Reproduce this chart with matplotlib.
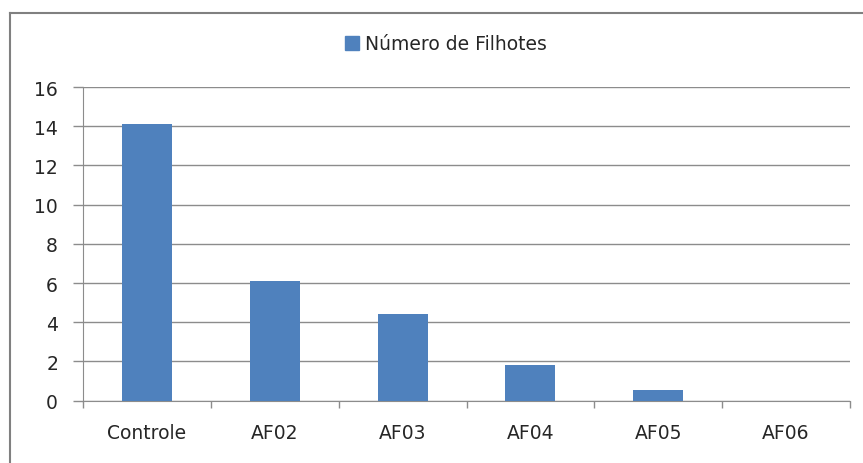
#!/usr/bin/env python3
import matplotlib
matplotlib.use("Agg")
import matplotlib.pyplot as plt
from matplotlib.lines import Line2D

categories = ["Controle", "AF02", "AF03", "AF04", "AF05", "AF06"]
filhotes = [14.1, 6.1, 4.4, 1.8, 0.55, 0.0]
yticks = [0, 2, 4, 6, 8, 10, 12, 14, 16]

plt.rcParams["font.family"] = ["DejaVu Sans"]
FS = 13.5
TXT = "#262626"

W, H = 863, 464
fig = plt.figure(figsize=(W / 100, H / 100), dpi=100)
ax = fig.add_axes([83 / W, 1 - 401.7 / H, (850 - 83) / W, (401.7 - 88) / H])

x = list(range(len(categories)))
ax.bar(x, filhotes, width=0.39, color="#4F81BD", label="Número de Filhotes", zorder=3)

ax.set_xlim(-0.5, len(categories) - 0.5)
ax.set_ylim(0, 16)
ax.set_yticks(yticks)
ax.set_yticklabels([str(v) for v in yticks], fontsize=FS, color=TXT)
ax.yaxis.grid(True, color="#8c8c8c", linewidth=1, zorder=0)

ax.set_xticks(x)
ax.set_xticklabels(categories, fontsize=FS, color=TXT)
ax.tick_params(axis="x", length=0, pad=16)
ax.tick_params(axis="y", length=7, width=1, color="#8c8c8c", pad=11)

# boundary tick marks between categories
ax.set_xticks([i - 0.5 for i in range(len(categories) + 1)], minor=True)
ax.tick_params(axis="x", which="minor", length=5, width=1, color="#8c8c8c")

for s in ["top", "right"]:
    ax.spines[s].set_visible(False)
ax.spines["left"].set_color("#8c8c8c")
ax.spines["bottom"].set_color("#8c8c8c")

handle = Line2D([], [], marker="s", linestyle="none", markersize=10,
                markerfacecolor="#4F81BD", markeredgecolor="#4F81BD")
fig.legend([handle], ["Número de Filhotes"], loc="center",
           bbox_to_anchor=(446 / W, 1 - 45 / H), frameon=False,
           fontsize=FS, handlelength=0.8, handletextpad=0.3, labelcolor=TXT)

# outer chart border (partly cropped in the original)
fig.add_artist(Line2D([10 / W, 10 / W], [0, 1 - 14 / H], color="#808080", linewidth=1.5))
fig.add_artist(Line2D([10 / W, 1], [1 - 14 / H, 1 - 14 / H], color="#808080", linewidth=1.5))

fig.savefig("out.png", dpi=100)
